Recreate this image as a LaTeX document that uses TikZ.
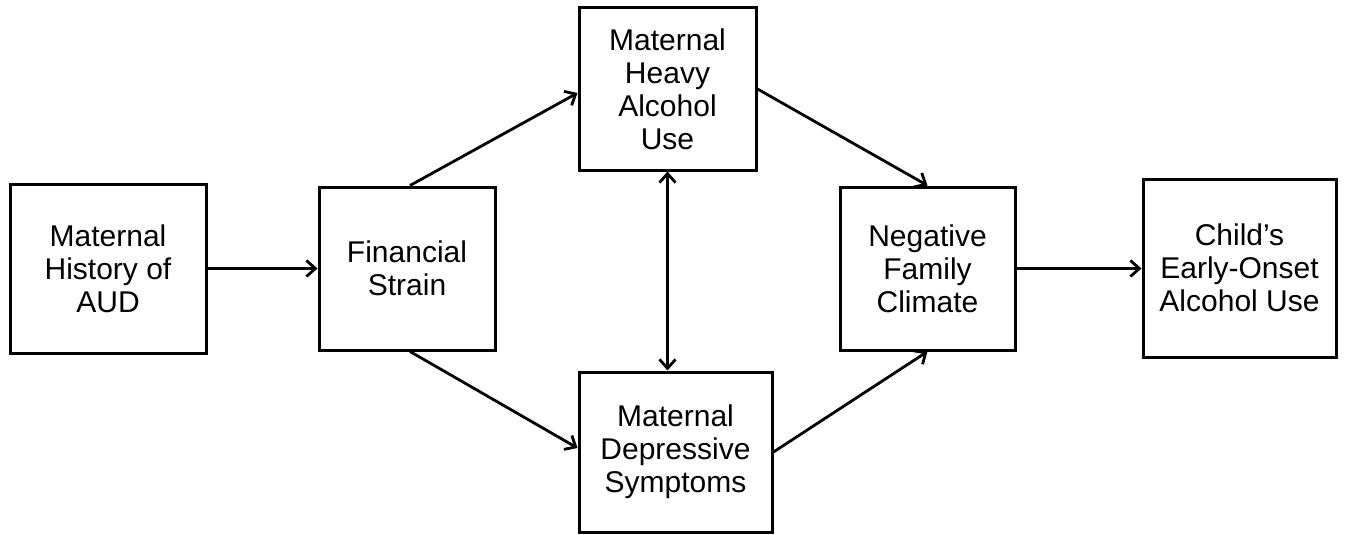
\documentclass[tikz,border=0pt]{standalone}
\usepackage{fontspec}
\setmainfont{Liberation Sans}
\usetikzlibrary{arrows.meta,calc}
\begin{document}
\begin{tikzpicture}[x=1pt,y=-1pt,
  box/.style={draw,line width=3pt,align=center,inner sep=0pt,
    font=\fontsize{30}{33}\selectfont},
  arr/.style={line width=2.8pt,-{Straight Barb[length=9pt,width=16pt,line width=2.8pt]}},
  darr/.style={line width=2.8pt,{Straight Barb[length=9pt,width=16pt,line width=2.8pt]}-{Straight Barb[length=9pt,width=16pt,line width=2.8pt]}}]
\useasboundingbox (0,0) rectangle (1346,535);
\node[box,minimum width=196pt,minimum height=169pt] (b1) at (108,268.5) {Maternal\\History of\\AUD};
\node[box,minimum width=176pt,minimum height=163pt] (b2) at (407,268.5) {Financial\\Strain};
\node[box,minimum width=177pt,minimum height=162pt] (b3) at (667.5,89) {Maternal\\Heavy\\Alcohol\\Use};
\node[box,minimum width=193pt,minimum height=160pt] (b4) at (675.5,452) {Maternal\\Depressive\\Symptoms};
\node[box,minimum width=175pt,minimum height=163pt] (b5) at (927.5,268.5) {Negative\\Family\\Climate};
\node[box,minimum width=193pt,minimum height=178pt] (b6) at (1239.5,268) {Child’s\\Early-Onset\\Alcohol Use};
\draw[arr] (b1.east) -- (b1.east -| b2.west);
\draw[arr] ([xshift=3pt]b2.north) -- ([yshift=-4pt]b3.west);
\draw[arr] ([xshift=3pt]b2.south) -- ([yshift=4pt]b4.west);
\draw[arr] (b3.east) -- (b5.north);
\draw[arr] (b4.east) -- (b5.south);
\draw[darr] (b3.south) -- (b3.south |- b4.north);
\draw[arr] (b5.east) -- (b5.east -| b6.west);
\end{tikzpicture}
\end{document}
